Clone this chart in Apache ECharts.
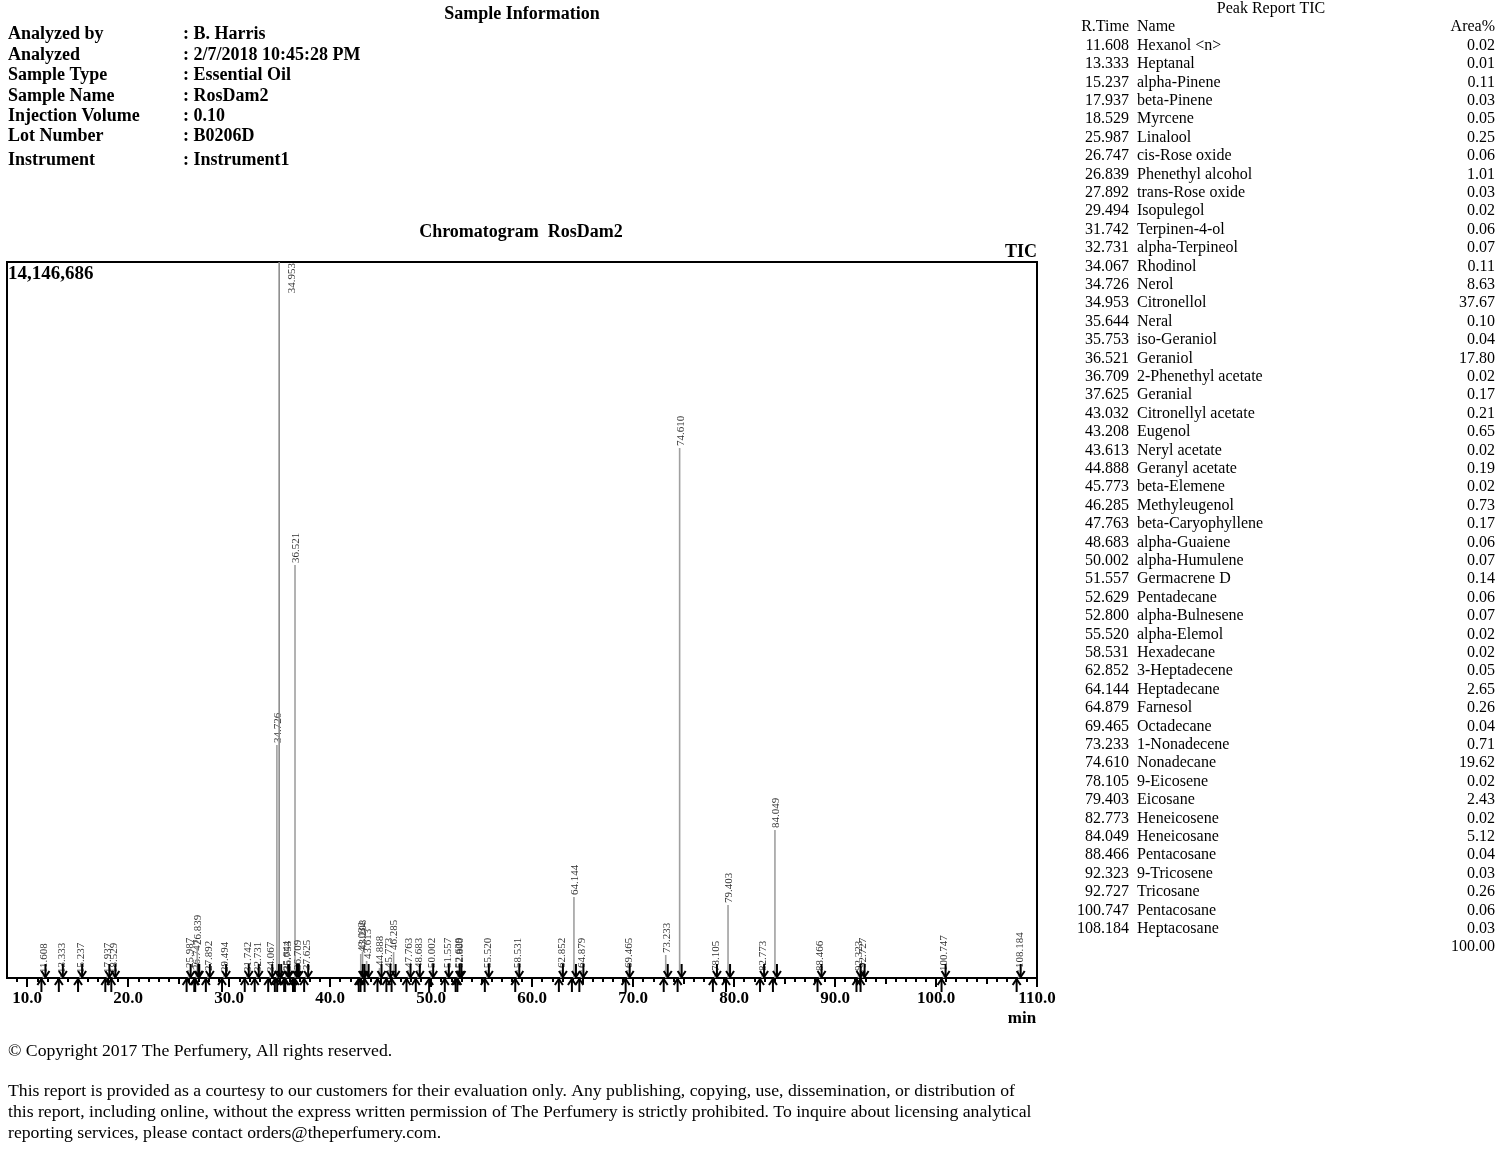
<!DOCTYPE html>
<html>
<head>
<meta charset="utf-8">
<script src="https://cdn.jsdelivr.net/npm/echarts@6/dist/echarts.min.js"></script>
<style>
html,body{margin:0;padding:0;background:#fff;}
#chart{width:1500px;height:1163px;}
</style>
</head>
<body>
<div id="chart"></div>
<script>
// ---------------- DATA ----------------
var peakTimes = [11.608,13.333,15.237,17.937,18.529,25.987,26.747,26.839,27.892,29.494,31.742,32.731,34.067,34.726,34.953,35.644,35.753,36.521,36.709,37.625,43.032,43.208,43.613,44.888,45.773,46.285,47.763,48.683,50.002,51.557,52.629,52.800,55.520,58.531,62.852,64.144,64.879,69.465,73.233,74.610,78.105,79.403,82.773,84.049,88.466,92.323,92.727,100.747,108.184];
var peakNames = ["Hexanol <n>","Heptanal","alpha-Pinene","beta-Pinene","Myrcene","Linalool","cis-Rose oxide","Phenethyl alcohol","trans-Rose oxide","Isopulegol","Terpinen-4-ol","alpha-Terpineol","Rhodinol","Nerol","Citronellol","Neral","iso-Geraniol","Geraniol","2-Phenethyl acetate","Geranial","Citronellyl acetate","Eugenol","Neryl acetate","Geranyl acetate","beta-Elemene","Methyleugenol","beta-Caryophyllene","alpha-Guaiene","alpha-Humulene","Germacrene D","Pentadecane","alpha-Bulnesene","alpha-Elemol","Hexadecane","3-Heptadecene","Heptadecane","Farnesol","Octadecane","1-Nonadecene","Nonadecane","9-Eicosene","Eicosane","Heneicosene","Heneicosane","Pentacosane","9-Tricosene","Tricosane","Pentacosane","Heptacosane"];
var areaPct = ["0.02","0.01","0.11","0.03","0.05","0.25","0.06","1.01","0.03","0.02","0.06","0.07","0.11","8.63","37.67","0.10","0.04","17.80","0.02","0.17","0.21","0.65","0.02","0.19","0.02","0.73","0.17","0.06","0.07","0.14","0.06","0.07","0.02","0.02","0.05","2.65","0.26","0.04","0.71","19.62","0.02","2.43","0.02","5.12","0.04","0.03","0.26","0.06","0.03"];
var areaTotal = "100.00";
// peak apex intensities (counts)
var peakHeights = [59000,59000,59000,59000,59000,158000,119000,612000,99000,79000,79000,79000,79000,4604000,14146686,99000,99000,8160000,119000,119000,474000,514000,336000,198000,158000,514000,158000,158000,158000,158000,158000,158000,158000,158000,158000,1600000,158000,158000,454000,10472000,99000,1442000,99000,2924000,99000,99000,158000,99000,158000];
var yMax = 14146686;
var xMin = 8, xMax = 110;
var majorTicks = [10,20,30,40,50,60,70,80,90,100,110];
var midTicks = [15,25,35,45,55,65,75,85,95,105];
var minorTicks = [9,10,11,12,13,14,15,16,17,18,19,20,21,22,23,24,25,26,27,28,29,30,31,32,33,34,35,36,37,38,39,40,41,42,43,44,45,46,47,48,49,50,51,52,53,54,55,56,57,58,59,60,61,62,63,64,65,66,67,68,69,70,71,72,73,74,75,76,77,78,79,80,81,82,83,84,85,86,87,88,89,90,91,92,93,94,95,96,97,98,99,100,101,102,103,104,105,106,107,108,109,110];
var infoLabels = ["Analyzed by","Analyzed","Sample Type","Sample Name","Injection Volume","Lot Number","Instrument"];
var infoValues = [": B. Harris",": 2/7/2018 10:45:28 PM",": Essential Oil",": RosDam2",": 0.10",": B0206D",": Instrument1"];
var footerLines = ["This report is provided as a courtesy to our customers for their evaluation only. Any publishing, copying, use, dissemination, or distribution of","this report, including online, without the express written permission of The Perfumery is strictly prohibited. To inquire about licensing analytical","reporting services, please contact orders@theperfumery.com."];

// ---------------- BUILD ----------------
var SERIF = '"Liberation Serif","Times New Roman",serif';
var peakData = peakTimes.map(function(t,i){ return [t, peakHeights[i]]; });

var graphics = [];
function txt(x,y,text,font,align,extra){
  var o = {type:'text', x:x, y:y, silent:true, style:{text:text, font:font, fill:'#000', align:align||'left', verticalAlign:'middle'}};
  if(extra){ for(var k in extra) o[k]=extra[k]; }
  graphics.push(o);
}
txt(522,14,'Sample Information','bold 18px '+SERIF,'center');
var infoY = [34,55,75,96,116,136,160];
infoLabels.forEach(function(l,i){
  txt(8,infoY[i],l,'bold 18px '+SERIF,'left');
  txt(183,infoY[i],infoValues[i],'bold 18px '+SERIF,'left');
});
txt(521,232,'Chromatogram  RosDam2','bold 18px '+SERIF,'center');
txt(1037,252,'TIC','bold 18px '+SERIF,'right');
txt(8,274,'14,146,686','bold 19px '+SERIF,'left');
txt(1022,1019,'min','bold 17px '+SERIF,'center');
// peak table
txt(1271,9,'Peak Report TIC','16px '+SERIF,'center');
txt(1129,27,'R.Time','16px '+SERIF,'right');
txt(1137,27,'Name','16px '+SERIF,'left');
txt(1495,27,'Area%','16px '+SERIF,'right');
peakTimes.forEach(function(t,i){
  var y = 45.5 + i*18.4;
  txt(1129,y,t.toFixed(3),'16px '+SERIF,'right');
  txt(1137,y,peakNames[i],'16px '+SERIF,'left');
  txt(1495,y,areaPct[i],'16px '+SERIF,'right');
});
txt(1495,45.5+peakTimes.length*18.4,areaTotal,'16px '+SERIF,'right');
// footer
txt(8,1051,'\u00A9 Copyright 2017 The Perfumery, All rights reserved.','17.7px '+SERIF,'left');
footerLines.forEach(function(l,i){ txt(8,1091+i*21,l,'17.7px '+SERIF,'left'); });

var chart = echarts.init(document.getElementById('chart'), null, {renderer:'canvas'});
var option = {
  backgroundColor:'#fff',
  animation:false,
  grid:{left:7, right:463, top:262, bottom:185, show:true, borderColor:'#000', borderWidth:2, backgroundColor:'transparent'},
  xAxis:[
    {type:'value', min:xMin, max:xMax, position:'bottom',
     axisLine:{show:true, onZero:false, lineStyle:{color:'#000', width:2}},
     axisTick:{show:true, customValues:majorTicks, length:9, lineStyle:{color:'#000', width:2}},
     axisLabel:{show:true, customValues:majorTicks, margin:12, color:'#000', fontFamily:'Liberation Serif', fontWeight:'bold', fontSize:17,
       formatter:function(v){ return v.toFixed(1); }},
     splitLine:{show:false}},
    {type:'value', min:xMin, max:xMax, position:'bottom',
     axisLine:{show:false}, axisLabel:{show:false}, splitLine:{show:false},
     axisTick:{show:true, customValues:minorTicks, length:4, lineStyle:{color:'#000', width:2}}},
    {type:'value', min:xMin, max:xMax, position:'bottom',
     axisLine:{show:false}, axisLabel:{show:false}, splitLine:{show:false},
     axisTick:{show:true, customValues:midTicks, length:6, lineStyle:{color:'#000', width:2}}}
  ],
  yAxis:{type:'value', min:0, max:yMax, show:false, splitLine:{show:false}},
  graphic:graphics,
  series:[
    {
      type:'custom', name:'peaks', xAxisIndex:0, yAxisIndex:0, clip:false, z:2,
      data:peakData,
      renderItem:function(params, api){
        var t = api.value(0), h = api.value(1);
        var clipped = h >= yMax;
        var base = api.coord([t,0]);
        var top = api.coord([t, Math.min(h,yMax)]);
        var children = [{type:'line', shape:{x1:base[0], y1:base[1], x2:top[0], y2:top[1]},
          style:{stroke: clipped ? '#8c8c8c' : '#a0a0a0', lineWidth:1.6}}];
        children.push({type:'text', x: clipped ? top[0]+13 : top[0]+1, y: clipped ? top[1]+1 : top[1]-2,
          rotation:Math.PI/2,
          style:{text:t.toFixed(3), font:'11px '+SERIF, fill:'#333', align: clipped ? 'right':'left', verticalAlign:'middle'}});
        return {type:'group', children:children};
      }
    },
    {
      type:'custom', name:'markers', xAxisIndex:0, yAxisIndex:0, clip:false, z:5,
      data:peakData,
      renderItem:function(params, api){
        var t = api.value(0);
        var s = api.coord([t-0.2, 0]);
        var e = api.coord([t+0.2, 0]);
        var y0 = s[1];
        var st = {stroke:'#000', lineWidth:2, fill:null};
        return {type:'group', children:[
          {type:'line', shape:{x1:e[0], y1:y0-14, x2:e[0], y2:y0-1}, style:st},
          {type:'polyline', shape:{points:[[e[0]-4,y0-7],[e[0],y0-1],[e[0]+4,y0-7]]}, style:st},
          {type:'line', shape:{x1:s[0], y1:y0+14, x2:s[0], y2:y0+1}, style:st},
          {type:'polyline', shape:{points:[[s[0]-4,y0+7],[s[0],y0+1],[s[0]+4,y0+7]]}, style:st}
        ]};
      }
    }
  ]
};
chart.setOption(option);
</script>
</body>
</html>
